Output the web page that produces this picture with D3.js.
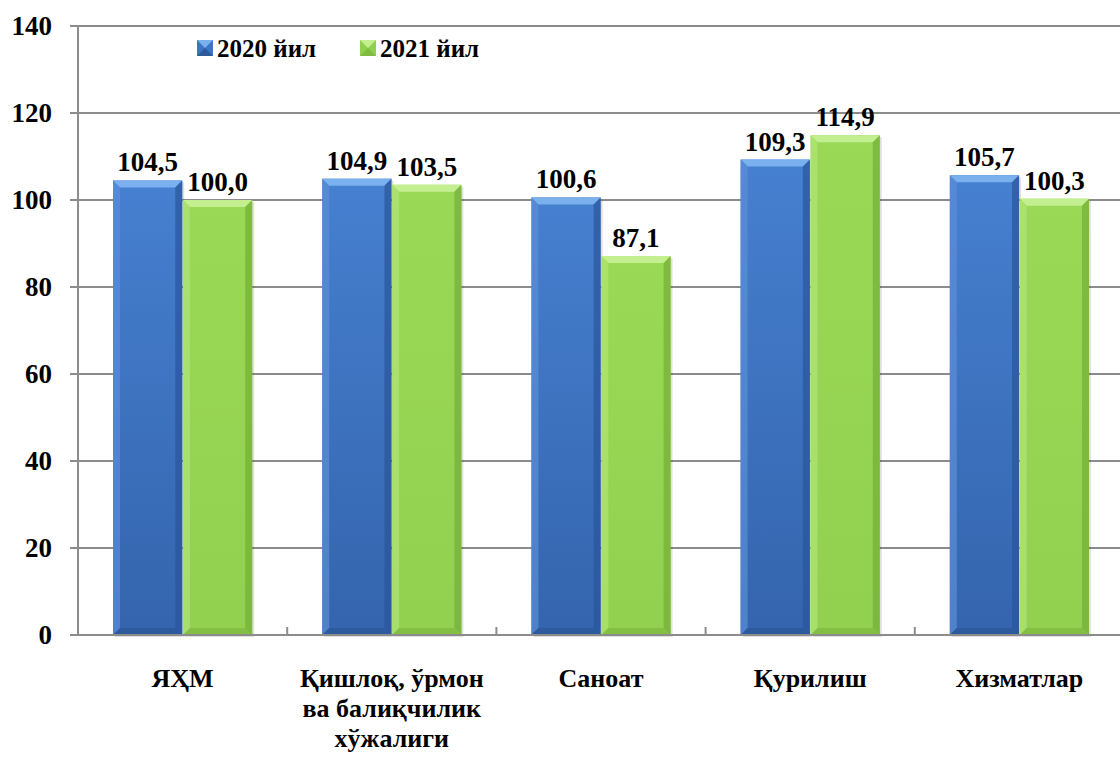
<!DOCTYPE html>
<html>
<head>
<meta charset="utf-8">
<script src="https://cdn.jsdelivr.net/npm/d3@7"></script>
<style>
  body { margin: 0; background: #fff; }
</style>
</head>
<body>
<div id="chart"></div>
<script>
// Chart data
const categories = ['ЯҲМ', 'Қишлоқ, ўрмон|ва балиқчилик|хўжалиги', 'Саноат', 'Қурилиш', 'Хизматлар'];
const seriesNames = ['2020 йил', '2021 йил'];
const values2020 = [104.5, 104.9, 100.6, 109.3, 105.7];
const values2021 = [100.0, 103.5, 87.1, 114.9, 100.3];
const yTicks = [0, 20, 40, 60, 80, 100, 120, 140];

const FONT = "'Liberation Serif', 'DejaVu Serif', serif";

const width = 1120, height = 758;
const margin = { top: 26, right: -4, bottom: 123, left: 78 };
const innerW = width - margin.left - margin.right;
const innerH = height - margin.top - margin.bottom;

const svg = d3.select('#chart').append('svg')
    .attr('width', width)
    .attr('height', height)
    .attr('font-family', FONT)
    .attr('font-weight', 'bold');

const defs = svg.append('defs');
// gradients for the bevelled bars
function addGrad(id, stops) {
    const g = defs.append('linearGradient').attr('id', id)
        .attr('x1', 0).attr('y1', 0).attr('x2', 0).attr('y2', 1);
    stops.forEach(s => g.append('stop').attr('offset', s[0]).attr('stop-color', s[1]));
}
addGrad('blueFace', [[0, '#4680d0'], [1, '#3464ad']]);
addGrad('greenFace', [[0, '#9ad955'], [1, '#92d050']]);

const colors = {
    '2020 йил': { face: 'url(#blueFace)', top: '#7ab0ee', left: '#5b8fd8', right: '#2a559a', bottom: '#2b5492', legend: '#3d74c4' },
    '2021 йил': { face: 'url(#greenFace)', top: '#c4ef90', left: '#b0e47a', right: '#74ae38', bottom: '#7cb43e', legend: '#8fd04e' }
};

const g = svg.append('g').attr('transform', `translate(${margin.left},${margin.top})`);

const x0 = d3.scaleBand().domain(d3.range(categories.length)).range([0, innerW]).paddingInner(0).paddingOuter(0);
const x1 = d3.scaleBand().domain(seriesNames).range([35, x0.bandwidth() - 35]).paddingInner(0.01);
const y = d3.scaleLinear().domain([0, 140]).range([innerH, 0]);

// grid lines
g.append('g')
    .selectAll('line')
    .data(yTicks)
    .enter().append('line')
    .attr('x1', -8).attr('x2', innerW)
    .attr('y1', d => y(d)).attr('y2', d => y(d))
    .attr('stroke', '#8c8c8c').attr('stroke-width', 2);

// y axis line
g.append('line')
    .attr('x1', 0).attr('x2', 0).attr('y1', 0).attr('y2', innerH)
    .attr('stroke', '#8c8c8c').attr('stroke-width', 2);

// y tick labels
g.append('g')
    .selectAll('text')
    .data(yTicks)
    .enter().append('text')
    .attr('x', -26)
    .attr('y', d => y(d))
    .attr('dy', '0.35em')
    .attr('text-anchor', 'end')
    .style('font-family', FONT)
    .style('font-size', '27px')
    .text(d => d);

// category ticks
g.append('g')
    .selectAll('line')
    .data(d3.range(1, categories.length))
    .enter().append('line')
    .attr('x1', d => x0(d)).attr('x2', d => x0(d))
    .attr('y1', innerH).attr('y2', innerH - 8)
    .attr('stroke', '#8c8c8c').attr('stroke-width', 2);

// bars
const rows = [];
categories.forEach((c, i) => {
    rows.push({ i, s: seriesNames[0], v: values2020[i] });
    rows.push({ i, s: seriesNames[1], v: values2021[i] });
});

const bars = g.append('g').selectAll('g')
    .data(rows)
    .enter().append('g')
    .attr('transform', d => `translate(${x0(d.i) + x1(d.s)},${y(d.v)})`);

const bw = x1.bandwidth();
const bev = 7;
bars.append('rect')
    .attr('x', 2).attr('y', 2)
    .attr('width', bw).attr('height', d => innerH - y(d.v))
    .attr('fill', 'rgba(0,0,0,0.12)');
bars.append('rect')
    .attr('width', bw)
    .attr('height', d => innerH - y(d.v))
    .attr('fill', d => colors[d.s].face);
bars.append('polygon')
    .attr('points', `0,0 ${bw},0 ${bw - bev},${bev} ${bev},${bev}`)
    .attr('fill', d => colors[d.s].top);
bars.append('polygon')
    .attr('points', d => { const h = innerH - y(d.v); return `0,0 ${bev},${bev} ${bev},${h - bev} 0,${h}`; })
    .attr('fill', d => colors[d.s].left).attr('opacity', 0.7);
bars.append('polygon')
    .attr('points', d => { const h = innerH - y(d.v); return `${bw},0 ${bw - bev},${bev} ${bw - bev},${h - bev} ${bw},${h}`; })
    .attr('fill', d => colors[d.s].right).attr('opacity', 0.7);
bars.append('polygon')
    .attr('points', d => { const h = innerH - y(d.v); return `0,${h} ${bev},${h - bev} ${bw - bev},${h - bev} ${bw},${h}`; })
    .attr('fill', d => colors[d.s].bottom).attr('opacity', 0.6);

// value labels
bars.append('text')
    .attr('x', bw / 2)
    .attr('y', -9)
    .attr('text-anchor', 'middle')
    .style('font-family', FONT)
    .style('font-size', '27px')
    .text(d => d.v.toFixed(1).replace('.', ','));

// x axis line
g.append('line')
    .attr('x1', -8).attr('x2', innerW)
    .attr('y1', innerH).attr('y2', innerH)
    .attr('stroke', '#8c8c8c').attr('stroke-width', 2);

// category labels
categories.forEach((c, i) => {
    const lines = c.split('|');
    const t = g.append('text')
        .attr('x', x0(i) + x0.bandwidth() / 2)
        .attr('y', innerH + 52)
        .attr('text-anchor', 'middle')
        .style('font-family', FONT)
        .style('font-size', '26px');
    lines.forEach((ln, k) => {
        t.append('tspan')
            .attr('x', x0(i) + x0.bandwidth() / 2)
            .attr('dy', k === 0 ? 0 : 30)
            .text(ln);
    });
});

// legend
const legend = svg.append('g');
const legendX = [197, 360];
seriesNames.forEach((s, k) => {
    const lg = legend.append('g').attr('transform', `translate(${legendX[k]},40)`);
    lg.append('rect').attr('width', 16).attr('height', 16).attr('fill', colors[s].legend);
    lg.append('polygon').attr('points', '0,0 16,0 8,8').attr('fill', colors[s].top);
    lg.append('polygon').attr('points', '0,16 16,16 8,8').attr('fill', colors[s].bottom).attr('opacity', 0.8);
    lg.append('text')
        .attr('x', 20).attr('y', 17)
        .style('font-family', FONT)
        .style('font-size', '25px')
        .text(s);
});
</script>
</body>
</html>
